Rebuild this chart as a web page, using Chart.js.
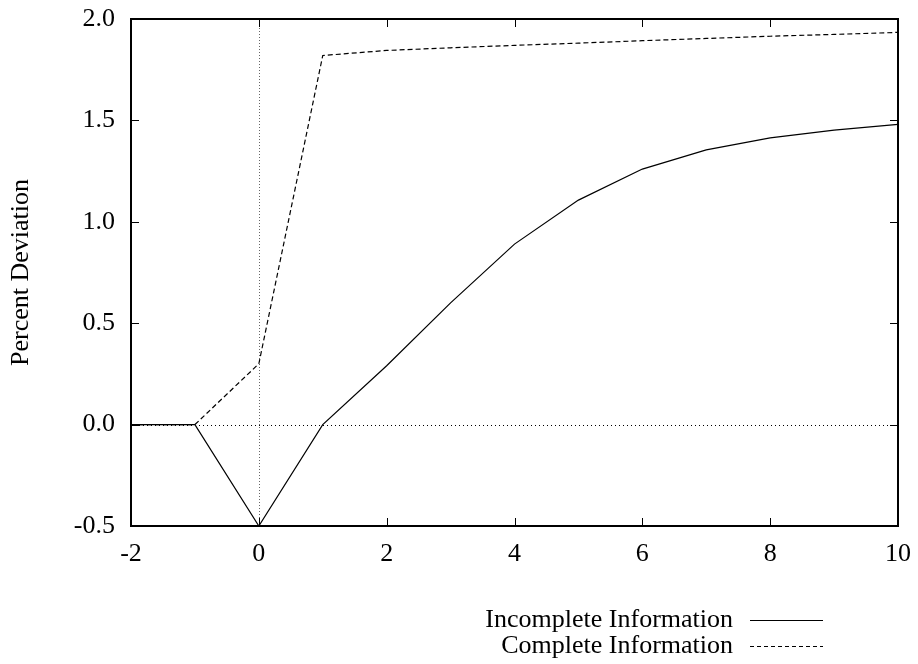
<!DOCTYPE html>
<html>
<head>
<meta charset="utf-8">
<script src="https://cdn.jsdelivr.net/npm/chart.js@4.4.1/dist/chart.umd.min.js"></script>
<style>
  html, body { margin: 0; padding: 0; background: #fff; }
  canvas { display: block; }
</style>
</head>
<body>
<canvas id="irfChart" width="918" height="664"></canvas>
<script>
// periods after the shock
const periods = [-2, -1, 0, 1, 2, 3, 4, 5, 6, 7, 8, 9, 10];
// percent deviation
const incompleteInfo = [0, 0, -0.5, 0.0, 0.29, 0.60, 0.89, 1.107, 1.26, 1.355, 1.414, 1.452, 1.48];
const completeInfo = [0, 0, 0.30, 1.82, 1.845, 1.858, 1.87, 1.881, 1.893, 1.904, 1.915, 1.924, 1.934];
const xTicks = [-2, 0, 2, 4, 6, 8, 10];
const yTicks = [-0.5, 0.0, 0.5, 1.0, 1.5, 2.0];

const serif = '"Liberation Serif", "Times New Roman", serif';

// gnuplot style frame, inward mirrored ticks and zero axes
const framePlugin = {
    id: 'gnuplotFrame',
    beforeDatasetsDraw(chart) {
        const { ctx, chartArea: a, scales: { x, y } } = chart;
        ctx.save();
        ctx.lineWidth = 1;
        // horizontal zero axis
        ctx.strokeStyle = '#000';
        ctx.setLineDash([1, 3]);
        const y0 = Math.round(y.getPixelForValue(0)) + 0.5;
        ctx.beginPath();
        ctx.moveTo(a.left, y0);
        ctx.lineTo(a.right, y0);
        ctx.stroke();
        // vertical zero axis
        ctx.strokeStyle = '#666';
        ctx.setLineDash([1, 2]);
        const x0 = Math.round(x.getPixelForValue(0)) + 0.5;
        ctx.beginPath();
        ctx.moveTo(x0, a.top);
        ctx.lineTo(x0, a.bottom);
        ctx.stroke();
        ctx.restore();
    },
    afterDraw(chart) {
        const { ctx, chartArea: a, scales: { x, y } } = chart;
        const len = 8;
        ctx.save();
        ctx.strokeStyle = '#000';
        ctx.lineWidth = 1;
        ctx.beginPath();
        xTicks.forEach(v => {
            const px = Math.round(x.getPixelForValue(v)) + 0.5;
            ctx.moveTo(px, a.bottom);
            ctx.lineTo(px, a.bottom - len);
            ctx.moveTo(px, a.top);
            ctx.lineTo(px, a.top + len);
        });
        yTicks.forEach(v => {
            const py = Math.round(y.getPixelForValue(v)) + 0.5;
            ctx.moveTo(a.left, py);
            ctx.lineTo(a.left + len, py);
            ctx.moveTo(a.right, py);
            ctx.lineTo(a.right - len, py);
        });
        ctx.stroke();
        ctx.lineWidth = 2;
        ctx.strokeRect(a.left, a.top, a.right - a.left, a.bottom - a.top);
        ctx.restore();
    }
};

// legend below the plot: text on the left, line sample on the right
const keyPlugin = {
    id: 'gnuplotKey',
    afterDraw(chart) {
        const { ctx } = chart;
        const textRight = 733, lineStart = 750, lineEnd = 823;
        const rows = [620, 646];
        ctx.save();
        ctx.font = '26px ' + serif;
        ctx.fillStyle = '#000';
        ctx.textAlign = 'right';
        ctx.textBaseline = 'middle';
        chart.data.datasets.forEach((ds, i) => {
            const ry = rows[i];
            ctx.fillText(ds.label, textRight, ry);
            ctx.strokeStyle = '#000';
            ctx.lineWidth = 1;
            ctx.setLineDash(ds.borderDash ? [4, 3] : []);
            ctx.beginPath();
            ctx.moveTo(lineStart, ry + 0.5);
            ctx.lineTo(lineEnd, ry + 0.5);
            ctx.stroke();
        });
        ctx.restore();
    }
};

new Chart(document.getElementById('irfChart'), {
    type: 'line',
    data: {
        datasets: [{
            label: 'Incomplete Information',
            data: periods.map((p, i) => ({ x: p, y: incompleteInfo[i] })),
            borderColor: '#000',
            borderWidth: 1.2,
            pointRadius: 0,
            tension: 0
        }, {
            label: 'Complete Information',
            data: periods.map((p, i) => ({ x: p, y: completeInfo[i] })),
            borderColor: '#000',
            borderWidth: 1.2,
            borderDash: [5, 3],
            pointRadius: 0,
            tension: 0
        }]
    },
    options: {
        responsive: false,
        animation: false,
        devicePixelRatio: 1,
        layout: { padding: { top: 19, right: 20, left: 0, bottom: 0 } },
        plugins: {
            legend: { display: false },
            tooltip: { enabled: false }
        },
        scales: {
            x: {
                type: 'linear',
                min: -2,
                max: 10,
                afterFit: s => {
                    s.height = 138;
                    s.paddingLeft = 0;
                    s.paddingRight = 0;
                },
                afterBuildTicks: s => { s.ticks = xTicks.map(v => ({ value: v })); },
                grid: { display: false },
                border: { display: false },
                ticks: {
                    color: '#000',
                    padding: 5,
                    maxRotation: 0,
                    font: { family: serif, size: 26 },
                    callback: v => String(v)
                }
            },
            y: {
                min: -0.5,
                max: 2.0,
                afterFit: s => {
                    s.width = 131;
                    s.paddingTop = 0;
                    s.paddingBottom = 0;
                },
                afterBuildTicks: s => { s.ticks = yTicks.map(v => ({ value: v })); },
                grid: { display: false },
                border: { display: false },
                ticks: {
                    color: '#000',
                    padding: 8,
                    font: { family: serif, size: 26 },
                    callback: v => Number(v).toFixed(1)
                },
                title: {
                    display: true,
                    text: 'Percent Deviation',
                    color: '#000',
                    padding: { top: 6, bottom: 0 },
                    font: { family: serif, size: 26 }
                }
            }
        }
    },
    plugins: [framePlugin, keyPlugin]
});
</script>
</body>
</html>
